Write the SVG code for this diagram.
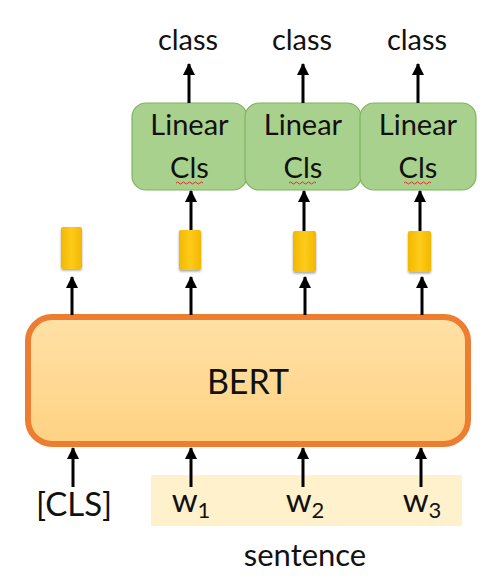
<svg xmlns="http://www.w3.org/2000/svg" width="500" height="584" viewBox="0 0 500 584">
<style>
text{font-family:Lato,"Open Sans","Liberation Sans",sans-serif;fill:#111;text-anchor:middle}
.cls{fill:#A9D18E;stroke:#7FB35F;stroke-width:1.2}
.arr{stroke:#000;stroke-width:3;fill:none;marker-end:url(#ah)}
.vec{fill:url(#yg);filter:url(#sh)}
.sq{fill:none;stroke:#E03020;stroke-width:1}
</style>
<defs>
<marker id="ah" markerUnits="userSpaceOnUse" markerWidth="12" markerHeight="12" refX="11" refY="6" orient="auto">
<path d="M0,0 L12,6 L0,12 z" fill="#000"/>
</marker>
<linearGradient id="yg" x1="0" y1="0" x2="1" y2="0">
<stop offset="0" stop-color="#F2B800"/>
<stop offset="0.5" stop-color="#FFCB1A"/>
<stop offset="1" stop-color="#F2B800"/>
</linearGradient>
<linearGradient id="og" x1="0" y1="0" x2="0" y2="1">
<stop offset="0" stop-color="#FFE1A6"/>
<stop offset="1" stop-color="#FFD283"/>
</linearGradient>
<filter id="sh" x="-30%" y="-20%" width="160%" height="150%">
<feDropShadow dx="0" dy="1.5" stdDeviation="1.2" flood-color="#000" flood-opacity="0.35"/>
</filter>
</defs>

<g id="sentence-band">
<rect x="151" y="475" width="311" height="51" fill="#FFF1CC"/>
</g>

<g id="bert">
<rect x="28" y="317" width="440" height="127" rx="24" fill="url(#og)" stroke="#ED7D31" stroke-width="6"/>
<text x="248" y="394" font-size="34">BERT</text>
</g>

<g id="vec0"><rect class="vec" x="61" y="227" width="21" height="42" rx="2"/></g>
<g id="vec1"><rect class="vec" x="179" y="230" width="22" height="40" rx="2"/></g>
<g id="vec2"><rect class="vec" x="293" y="231" width="23" height="41" rx="2"/></g>
<g id="vec3"><rect class="vec" x="408" y="231" width="23" height="41" rx="2"/></g>

<g id="linear1">
<rect class="cls" x="132" y="103" width="115" height="87" rx="14"/>
<text x="189.5" y="135" font-size="29">Linear</text>
<text x="189.5" y="178" font-size="29">Cls</text>
<path class="sq" d="M176,183 q1.5,-2 3,0 t3,0 t3,0 t3,0 t3,0 t3,0 t3,0 t3,0 t3,0"/>
</g>
<g id="linear2">
<rect class="cls" x="245" y="103" width="116" height="87" rx="14"/>
<text x="303" y="135" font-size="29">Linear</text>
<text x="303" y="178" font-size="29">Cls</text>
<path class="sq" d="M289,183 q1.5,-2 3,0 t3,0 t3,0 t3,0 t3,0 t3,0 t3,0 t3,0 t3,0"/>
</g>
<g id="linear3">
<rect class="cls" x="360" y="103" width="116" height="87" rx="14"/>
<text x="418" y="135" font-size="29">Linear</text>
<text x="418" y="178" font-size="29">Cls</text>
<path class="sq" d="M404,183 q1.5,-2 3,0 t3,0 t3,0 t3,0 t3,0 t3,0 t3,0 t3,0 t3,0"/>
</g>

<g id="labels">
<text x="188" y="50" font-size="29">class</text>
<text x="302" y="50" font-size="29">class</text>
<text x="417" y="50" font-size="29">class</text>
<text x="74" y="516" font-size="33">[CLS]</text>
<text x="191" y="512" font-size="33">w<tspan font-size="22" dy="6">1</tspan></text>
<text x="305" y="512" font-size="33">w<tspan font-size="22" dy="6">2</tspan></text>
<text x="422" y="512" font-size="33">w<tspan font-size="22" dy="6">3</tspan></text>
<text x="305" y="566" font-size="31">sentence</text>
</g>

<g id="connectors">
<line class="arr" x1="189" y1="103" x2="189" y2="64"/>
<line class="arr" x1="303" y1="103" x2="303" y2="64"/>
<line class="arr" x1="418" y1="103" x2="418" y2="64"/>
<line class="arr" x1="191" y1="230" x2="191" y2="191"/>
<line class="arr" x1="304" y1="231" x2="304" y2="191"/>
<line class="arr" x1="420" y1="231" x2="420" y2="191"/>
<line class="arr" x1="72" y1="315" x2="72" y2="277"/>
<line class="arr" x1="191" y1="315" x2="191" y2="277"/>
<line class="arr" x1="305" y1="315" x2="305" y2="277"/>
<line class="arr" x1="422" y1="315" x2="422" y2="277"/>
<line class="arr" x1="73" y1="487" x2="73" y2="448"/>
<line class="arr" x1="191" y1="487" x2="191" y2="448"/>
<line class="arr" x1="303" y1="487" x2="303" y2="448"/>
<line class="arr" x1="421" y1="487" x2="421" y2="448"/>
</g>
</svg>
